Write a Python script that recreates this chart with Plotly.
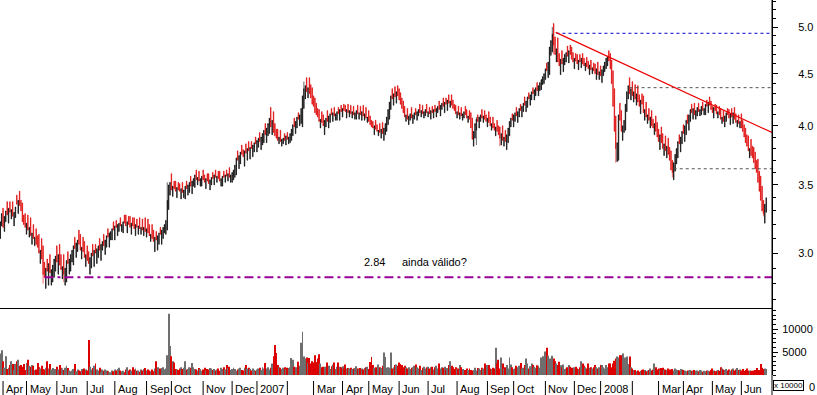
import plotly.graph_objects as go
import numpy as np

# ---------------- data (daily closes in cents, candle bodies in cents, volumes in hundreds) ----------------
close_cents = [
    322, 328, 318, 326, 330, 327, 332, 329, 331, 326,
    329, 333, 335, 338, 334, 330, 322, 320, 318, 321,
    316, 318, 312, 314, 310, 311, 306, 304, 300, 302,
    296, 286, 284, 290, 288, 293, 287, 289, 292, 296,
    298, 294, 299, 292, 289, 291, 286, 290, 295, 293,
    296, 299, 302, 305, 303, 307, 309, 306, 302, 304,
    301, 297, 299, 295, 293, 297, 300, 298, 302, 300,
    303, 305, 302, 306, 308, 305, 309, 312, 311, 314,
    315, 317, 316, 319, 318, 320, 321, 319, 320, 322,
    321, 319, 322, 320, 318, 321, 319, 317, 320, 318,
    319, 317, 318, 316, 318, 315, 317, 314, 312, 313,
    310, 308, 311, 309, 312, 314, 313, 316, 318, 320,
    323, 338, 350, 352, 346, 349, 347, 345, 348, 346,
    345, 347, 344, 346, 349, 347, 350, 352, 349, 353,
    355, 358, 354, 356, 353, 355, 357, 354, 352, 355,
    353, 351, 354, 356, 355, 358, 356, 357, 355, 353,
    355, 357, 356, 358, 357, 359, 356, 358, 360, 362,
    366, 372, 370, 374, 377, 375, 373, 378, 376, 380,
    378, 381, 380, 383, 385, 384, 387, 389, 386, 390,
    393, 396, 392, 398, 402, 407, 399, 405, 394, 391,
    389, 387, 390, 386, 388, 389, 387, 391, 388, 390,
    393, 397, 401, 399, 404, 408, 406, 410, 416, 428,
    435, 438, 432, 436, 430, 426, 420, 418, 412, 410,
    408, 404, 406, 403, 400, 405, 407, 404, 409, 411,
    410, 412, 409, 411, 413, 411, 415, 413, 416, 414,
    413, 415, 412, 414, 411, 413, 410, 412, 414, 411,
    412, 410, 413, 409, 411, 407, 408, 404, 401, 399,
    398, 400, 397, 395, 396, 394, 397, 393, 398, 402,
    408, 415, 422, 428, 425, 430, 427, 432, 428, 424,
    420, 416, 412, 408, 410, 406, 409, 411, 407, 410,
    412, 410, 413, 415, 412, 414, 411, 413, 415, 412,
    413, 411, 414, 412, 415, 413, 416, 418, 415, 419,
    421, 418, 422, 420, 424, 421, 423, 419, 416, 414,
    411, 413, 410, 412, 409, 411, 413, 410, 407, 409,
    406, 398, 388, 395, 402, 406, 404, 408, 410, 407,
    409, 406, 404, 407, 403, 400, 402, 398, 396, 399,
    395, 392, 389, 393, 387, 390, 386, 392, 398, 404,
    407, 405, 410, 412, 409, 413, 416, 414, 418, 421,
    419, 423, 427, 425, 429, 432, 430, 434, 436, 433,
    438, 441, 444, 447, 450, 455, 453, 462, 478, 485,
    492, 480, 470, 476, 462, 458, 465, 460, 466, 470,
    472, 468, 474, 470, 465, 462, 466, 463, 460, 464,
    462, 466, 460, 458, 461, 457, 455, 459, 454, 456,
    453, 450, 455, 449, 452, 448, 454, 458, 462, 466,
    468, 463, 455, 440, 418, 395, 380, 385, 410, 405,
    395, 400, 405, 420, 432, 438, 430, 435, 428, 432,
    425, 430, 422, 418, 424, 420, 412, 415, 408, 410,
    405, 408, 400, 398, 402, 395, 390, 386, 392, 385,
    380, 384, 378, 382, 375, 370, 362, 360, 368, 375,
    380, 386, 384, 390, 395, 393, 400, 405, 402, 410,
    415, 412, 416, 410, 414, 417, 413, 415, 418, 414,
    416, 420, 418, 422, 419, 415, 412, 417, 414, 411,
    413, 410, 406, 408, 404, 409, 412, 410, 407, 411,
    408, 412, 406, 403, 405, 402, 404, 398, 395, 390,
    385, 382, 378, 380, 374, 372, 368, 363, 360, 352,
    345, 338, 330, 328, 335, 340,
]

# close minus open, in cents (positive = black candle, negative = red candle)
body_cents = [
    12, 9, -14, 11, 8, -10, 11, -8, 7, -11,
    10, 8, -7, 10, -11, -8, -14, -7, -10, 8,
    -11, 7, -13, 8, -10, 6, -11, -8, -13, 9,
    -14, -19, -10, 13, -8, 14, -12, 10, 11, 12,
    10, -11, 13, -14, -10, 8, -13, 11, 14, -8,
    10, 11, 8, 13, -8, 10, 8, -10, -11, 8,
    -10, -11, 8, -10, -8, 11, 10, -8, 11, -6,
    10, 8, -8, 11, 6, -8, 10, 8, -6, 10,
    6, 8, -6, 10, -5, 8, 6, -6, 5, 8,
    -6, -8, 8, -6, -8, 8, -6, -8, 8, -6,
    6, -8, 5, -8, 6, -10, 6, -10, -8, 5,
    -10, -8, 10, -6, 10, 8, -5, 10, 8, 6,
    10, 22, 19, 10, -13, 8, -6, -8, 8, -6,
    -6, 8, -8, 6, 10, -6, 8, 8, -8, 10,
    6, 10, -8, 6, -8, 6, 8, -8, -6, 8,
    -6, -8, 8, 6, -5, 8, -6, 5, -6, -8,
    6, 8, -5, 6, -5, 6, -8, 6, 8, 8,
    10, 14, -8, 11, 10, -8, -6, 13, -8, 10,
    -8, 10, -6, 10, 8, -6, 10, 8, -8, 11,
    10, 11, -10, 13, 11, 14, -18, 13, -19, -11,
    -8, -10, 6, -10, 6, 5, -6, 8, -6, 6,
    8, 10, 10, -8, 11, 10, -6, 10, 14, 29,
    19, 13, -14, 10, -16, -13, -16, -10, -14, -11,
    -8, -11, 8, -10, -10, 13, 8, -10, 11, 8,
    -6, 8, -8, 6, 8, -6, 10, -6, 8, -6,
    -6, 8, -8, 6, -8, 6, -8, 6, 8, -8,
    6, -8, 8, -10, 6, -10, 5, -10, -8, -6,
    -6, 8, -8, -6, 5, -8, 8, -10, 11, 10,
    13, 14, 16, 13, -10, 11, -10, 11, -10, -11,
    -11, -10, -11, -10, 6, -10, 8, 6, -10, 8,
    6, -6, 8, 6, -8, 6, -8, 6, 6, -8,
    5, -6, 8, -6, 8, -6, 8, 6, -8, 10,
    6, -8, 10, -6, 10, -8, 6, -10, -8, -6,
    -8, 6, -8, 6, -8, 6, 6, -8, -8, 6,
    -8, -14, -19, 13, 13, 10, -6, 10, 6, -8,
    6, -8, -6, 8, -10, -8, 6, -10, -6, 8,
    -10, -8, -10, 10, -13, 8, -10, 13, 13, 13,
    8, -6, 11, 8, -8, 10, 8, -6, 10, 8,
    -8, 10, 10, -6, 10, 8, -6, 10, 8, -8,
    10, 8, 10, 8, 10, 11, -8, 16, 29, 16,
    19, -24, -19, 14, -26, -13, 16, -14, 14, 11,
    10, -11, 13, -10, -13, -10, 11, -8, -10, 10,
    -8, 10, -11, -8, 8, -10, -8, 10, -10, 6,
    -8, -10, 11, -13, 8, -10, 13, 10, 10, 11,
    10, -11, -16, -24, -35, -40, -29, 16, 40, -16,
    -19, 13, 11, 24, 19, 13, -16, 11, -14, 10,
    -14, 11, -16, -11, 13, -10, -16, 10, -14, 8,
    -11, 10, -14, -8, 10, -14, -13, -11, 13, -14,
    -13, 10, -13, 10, -14, -11, -16, -10, 14, 14,
    13, 14, -8, 13, 11, -8, 14, 13, -8, 14,
    11, -8, 10, -11, 8, 8, -8, 6, 8, -8,
    6, 10, -6, 10, -8, -8, -6, 10, -6, -8,
    6, -8, -10, 6, -10, 10, 8, -6, -8, 10,
    -8, 10, -11, -8, 6, -8, 6, -13, -10, -11,
    -13, -10, -13, 8, -14, -10, -13, -14, -10, -19,
    -16, -19, -19, -10, 14, 11,
]

# a few visible extreme wicks (day index, high, low)
wick_days = [31, 46, 121, 220, 345, 362, 400, 401, 446, 487, 553]
wick_high = [2.92, 2.93, 3.52, 4.42, 4.08, 3.99, 5.00, 4.95, 3.95, 3.70, 3.36]
wick_low = [2.80, 2.81, 3.30, 4.28, 3.83, 3.82, 4.72, 4.70, 3.68, 3.56, 3.26]

volume_hundreds = [
    47, 54, 30, 16, 41, 13, 16, 22, 30, 24,
    11, 24, 30, 33, 20, 22, 18, 24, 11, 26,
    33, 20, 18, 22, 20, 11, 12, 26, 17, 14,
    20, 13, 12, 16, 30, 14, 24, 12, 15, 11,
    13, 18, 12, 22, 16, 14, 11, 16, 20, 15,
    10, 8, 10, 13, 24, 8, 12, 10, 8, 13,
    10, 14, 12, 10, 76, 18, 12, 15, 20, 25,
    12, 10, 16, 6, 12, 9, 12, 10, 8, 6,
    6, 10, 8, 12, 10, 13, 16, 10, 8, 9,
    6, 12, 17, 10, 12, 10, 17, 12, 14, 9,
    10, 7, 12, 10, 13, 15, 10, 12, 10, 8,
    12, 8, 14, 30, 17, 11, 14, 15, 17, 12,
    14, 43, 133, 63, 41, 30, 27, 13, 12, 11,
    14, 17, 13, 16, 30, 12, 13, 17, 16, 26,
    17, 13, 12, 10, 15, 13, 9, 12, 16, 10,
    13, 12, 15, 14, 11, 13, 10, 12, 14, 9,
    16, 13, 17, 12, 22, 15, 18, 11, 13, 16,
    13, 9, 12, 14, 16, 11, 10, 16, 22, 14,
    16, 13, 10, 14, 11, 9, 12, 14, 16, 11,
    17, 14, 26, 14, 17, 12, 16, 25, 41, 65,
    48, 22, 17, 16, 13, 16, 17, 13, 16, 15,
    17, 37, 33, 18, 17, 14, 29, 20, 70, 94,
    40, 36, 38, 27, 37, 25, 30, 27, 43, 28,
    36, 45, 25, 17, 18, 18, 14, 27, 20, 13,
    19, 23, 27, 13, 18, 27, 18, 17, 19, 14,
    23, 14, 15, 14, 16, 13, 14, 15, 19, 14,
    13, 15, 14, 12, 15, 17, 18, 13, 28, 39,
    22, 16, 17, 14, 23, 17, 15, 20, 49, 39,
    16, 17, 16, 49, 14, 17, 22, 23, 20, 27,
    24, 22, 17, 20, 17, 14, 17, 13, 16, 17,
    20, 23, 17, 14, 20, 11, 16, 18, 14, 17,
    18, 14, 17, 18, 12, 17, 20, 14, 25, 14,
    17, 16, 18, 12, 15, 22, 30, 20, 17, 13,
    17, 13, 14, 22, 17, 13, 10, 11, 14, 11,
    14, 11, 10, 11, 16, 10, 15, 14, 11, 16,
    14, 25, 17, 22, 22, 14, 13, 16, 14, 59,
    25, 33, 14, 38, 25, 14, 17, 22, 14, 38,
    23, 17, 13, 14, 20, 17, 20, 26, 14, 16,
    22, 36, 25, 14, 19, 25, 22, 18, 16, 21,
    20, 16, 38, 41, 30, 51, 59, 42, 36, 29,
    42, 36, 30, 25, 22, 29, 21, 17, 23, 13,
    14, 17, 22, 18, 16, 13, 17, 18, 14, 13,
    17, 30, 25, 20, 17, 14, 25, 16, 17, 14,
    17, 22, 17, 14, 17, 22, 22, 17, 14, 22,
    17, 25, 25, 17, 25, 31, 36, 40, 38, 43,
    43, 47, 30, 38, 40, 24, 40, 17, 14, 11,
    11, 8, 10, 7, 9, 11, 12, 11, 8, 10,
    11, 14, 10, 12, 25, 17, 12, 14, 11, 15,
    16, 11, 12, 11, 14, 12, 11, 13, 10, 14,
    12, 11, 10, 13, 12, 11, 10, 8, 10, 9,
    11, 9, 8, 11, 9, 10, 8, 11, 10, 7,
    9, 8, 10, 9, 8, 11, 14, 10, 8, 9,
    11, 9, 17, 14, 12, 11, 13, 10, 12, 9,
    12, 14, 10, 12, 15, 11, 12, 10, 13, 9,
    11, 14, 10, 10, 8, 9, 10, 11, 15, 11,
    11, 24, 16, 13, 14, 13,
]

month_start_day = [2, 19, 41, 63, 83, 106, 124, 147, 168, 186, 208, 227, 248, 267,
                   289, 310, 331, 353, 372, 395, 416, 435, 458, 477, 495, 516, 537]
month_labels = ["Apr", "May", "Jun", "Jul", "Aug", "Sep", "Oct", "Nov", "Dec", "2007", "",
                "Mar", "Apr", "May", "Jun", "Jul", "Aug", "Sep", "Oct", "Nov", "Dec", "2008", "",
                "Mar", "Apr", "May", "Jun"]

price_ticks = [3.0, 3.5, 4.0, 4.5, 5.0]
price_ticktext = ["3.0", "3.5", "4.0", "4.5", "5.0"]
price_minor_ticks = [round(2.7 + 0.1 * i, 1) for i in range(27)]
volume_ticks = [5000, 10000]
volume_ticktext = ["5000", "10000"]

level_values = [4.93, 4.36, 3.63, 2.84]
level_start_day = [403, 456, 488, 32]
level_colors = ["#0000cc", "#555555", "#555555", "#990099"]
level_dash = ["3px,3px", "3px,3px", "3px,3px", "9px,4px,3px,4px"]
level_width = [1, 1, 1, 2]

trend_days = [402.5, 559.2]
trend_prices = [4.94, 3.94]

x_end = 559.2

# ---------------- derived series ----------------
n = min(len(close_cents), len(volume_hundreds), len(body_cents))
close = np.array(close_cents[:n]) / 100.0
open_ = close - np.array(body_cents[:n]) / 100.0
high = np.maximum(open_, close)
low = np.minimum(open_, close)
for d, h, l in zip(wick_days, wick_high, wick_low):
    if d < n:
        high[d] = max(high[d], h)
        low[d] = min(low[d], l)
days = np.arange(n)
up = close >= open_
vol = np.array(volume_hundreds[:n]) * 100
vol_colors = ["#6e6e6e" if u else "#dd0000" for u in up]

RED = "#dd0000"
fig = go.Figure()

fig.add_trace(go.Candlestick(
    x=days, open=open_, high=high, low=low, close=close,
    increasing=dict(line=dict(color="black", width=0.6), fillcolor="black"),
    decreasing=dict(line=dict(color=RED, width=0.6), fillcolor=RED),
    whiskerwidth=0, hoverinfo="skip", showlegend=False,
    xaxis="x", yaxis="y",
))

for v, s, c, d, w in zip(level_values, level_start_day, level_colors, level_dash, level_width):
    fig.add_trace(go.Scatter(
        x=[s, x_end], y=[v, v], mode="lines",
        line=dict(color=c, width=w, dash=d),
        hoverinfo="skip", showlegend=False, xaxis="x", yaxis="y",
    ))

fig.add_trace(go.Scatter(
    x=trend_days, y=trend_prices, mode="lines",
    line=dict(color="#ee0000", width=1.2),
    hoverinfo="skip", showlegend=False, xaxis="x", yaxis="y",
))

fig.add_trace(go.Bar(
    x=days, y=vol, marker=dict(color=vol_colors, line=dict(width=0)),
    hoverinfo="skip", showlegend=False, xaxis="x2", yaxis="y2",
))

H_PLOT = 375.0
price_bottom = (H_PLOT - 308) / H_PLOT
vol_top = (H_PLOT - 309) / H_PLOT

FONT = "Liberation Sans, Arial, sans-serif"

shapes = [
    dict(type="line", xref="paper", yref="paper", x0=1, x1=1, y0=-20 / H_PLOT, y1=1,
         line=dict(color="black", width=1)),
]
annotations = []
for d, lab in zip(month_start_day, month_labels):
    shapes.append(dict(type="line", xref="x2", yref="paper", x0=d, x1=d,
                       y0=-6 / H_PLOT, y1=-20 / H_PLOT, line=dict(color="black", width=1)))
    if lab:
        annotations.append(dict(x=d, xref="x2", y=0, yref="paper", text=lab,
                                xanchor="left", yanchor="top", xshift=1, yshift=-6,
                                showarrow=False, font=dict(family=FONT, size=11, color="black")))

annotations.append(dict(x=262, xref="x", y=np.log10(2.94), yref="y", text="2.84",
                        xanchor="left", yanchor="middle", showarrow=False,
                        font=dict(family=FONT, size=11, color="black")))
annotations.append(dict(x=289.5, xref="x", y=np.log10(2.94), yref="y", text="ainda válido?",
                        xanchor="left", yanchor="middle", showarrow=False,
                        font=dict(family=FONT, size=11, color="black")))
annotations.append(dict(x=1, xref="paper", y=0, yref="paper", text="x 10000",
                        xanchor="left", yanchor="top", xshift=1, yshift=-5,
                        showarrow=False, bordercolor="black", borderwidth=1, borderpad=0,
                        bgcolor="white", font=dict(family=FONT, size=8, color="black")))
annotations.append(dict(x=1, xref="paper", y=0, yref="paper", text="0",
                        xanchor="left", yanchor="top", xshift=35, yshift=-4,
                        showarrow=False, font=dict(family=FONT, size=11, color="black")))

fig.update_layout(
    width=817, height=395,
    margin=dict(l=0, r=45, t=0, b=20),
    paper_bgcolor="white", plot_bgcolor="white",
    showlegend=False, bargap=0.3, boxgap=0.45,
    xaxis=dict(domain=[0, 1], anchor="y", range=[-0.2, x_end], showgrid=False, zeroline=False,
               showticklabels=False, ticks="", showline=True, linecolor="black", linewidth=1,
               rangeslider=dict(visible=False)),
    xaxis2=dict(domain=[0, 1], anchor="y2", matches="x", range=[-0.2, x_end], showgrid=False,
                zeroline=False, showticklabels=False, ticks="", showline=False),
    yaxis=dict(domain=[price_bottom, 1], anchor="x", type="log", side="right",
               range=[(739.3 - 308) / 1019.0, 739.3 / 1019.0],
               showgrid=False, zeroline=False, showline=True, linecolor="black", linewidth=1,
               tickmode="array", tickvals=price_ticks, ticktext=price_ticktext,
               ticks="outside", ticklen=5, tickcolor="black", ticklabelstandoff=18,
               minor=dict(tickmode="array", tickvals=price_minor_ticks, ticks="outside",
                          ticklen=3, tickcolor="black"),
               tickfont=dict(family=FONT, size=11, color="black")),
    yaxis2=dict(domain=[0, vol_top], anchor="x2", side="right", range=[0, 14350],
                showgrid=False, zeroline=False, showline=True, linecolor="black", linewidth=1,
                tickmode="array", tickvals=volume_ticks, ticktext=volume_ticktext,
                ticks="outside", ticklen=5, tickcolor="black", ticklabelstandoff=2,
                minor=dict(tickmode="linear", tick0=0, dtick=1000, ticks="outside",
                           ticklen=3, tickcolor="black"),
                tickfont=dict(family=FONT, size=11, color="black")),
    shapes=shapes,
    annotations=annotations,
)

fig.write_html("out.html", config={"displayModeBar": False},
               post_script="document.body.style.margin='0';document.body.style.overflow='hidden';")
